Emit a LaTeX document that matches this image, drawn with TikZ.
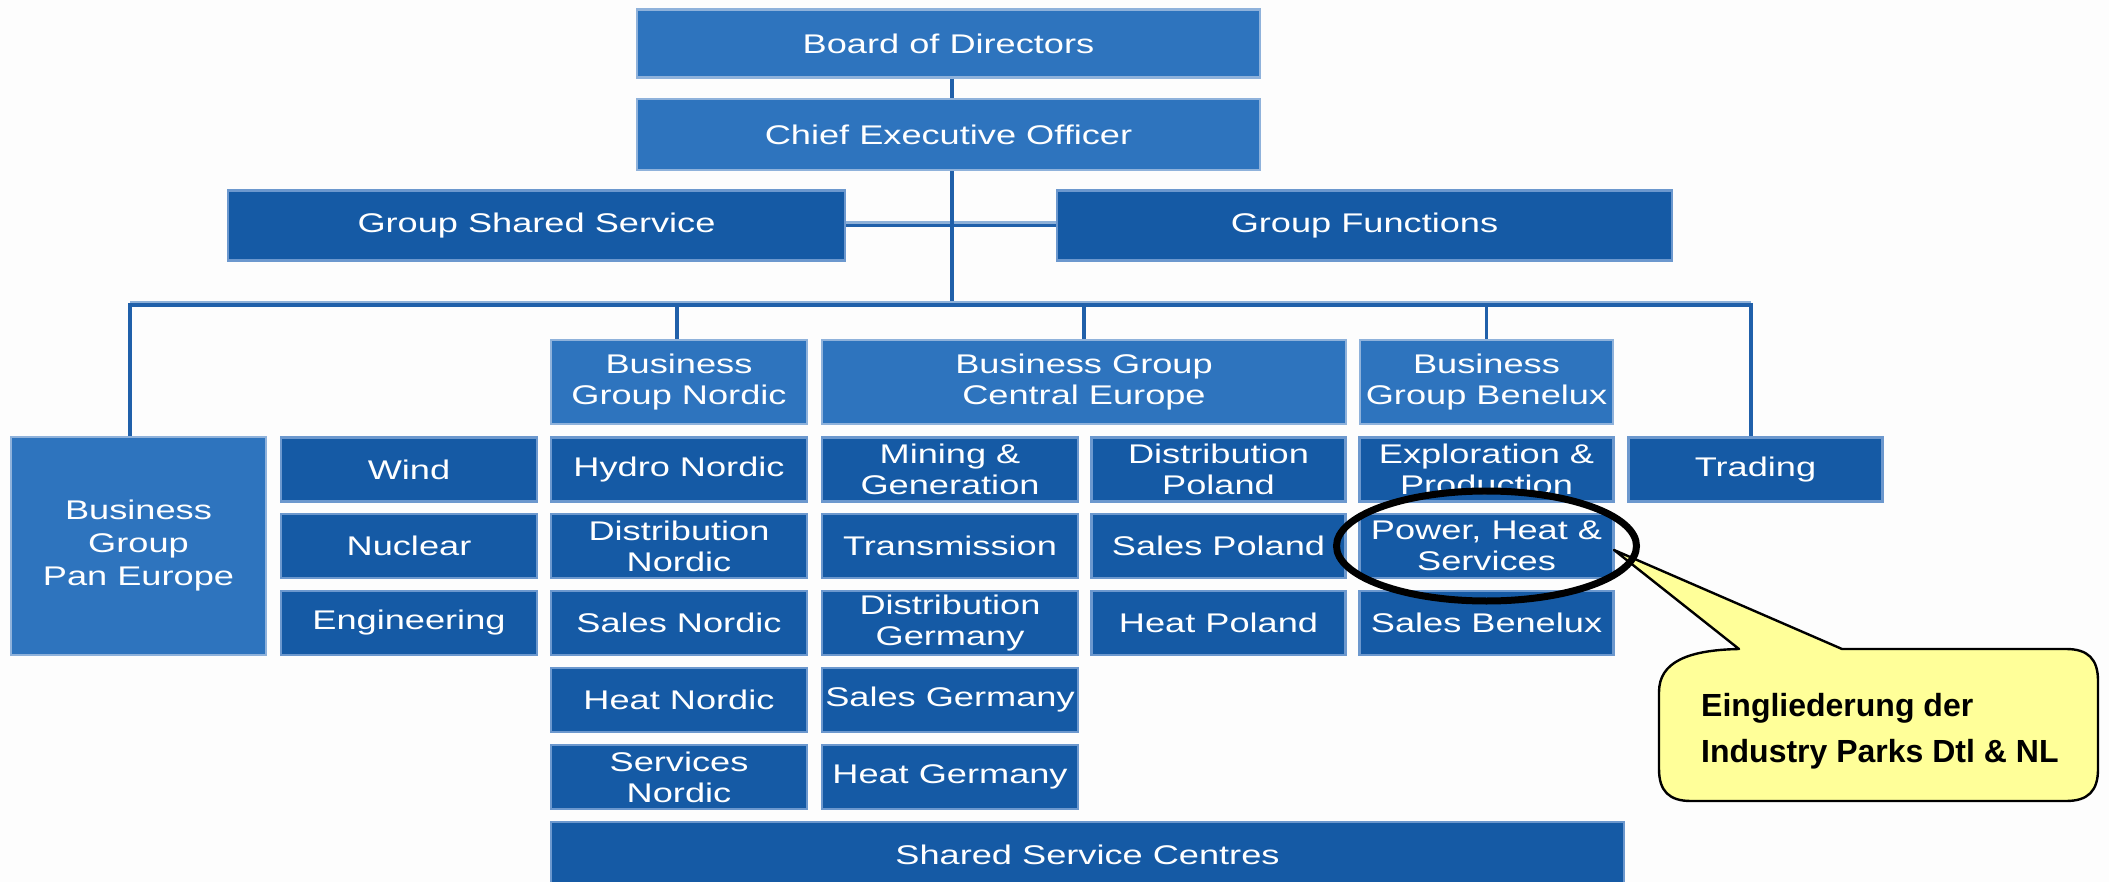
\documentclass[tikz,border=0pt]{standalone}
\usepackage{fontspec}
\setmainfont{Liberation Sans}
\newfontfamily\boxfont[FakeStretch=1.34]{Liberation Sans}
\usetikzlibrary{calc,shapes.geometric}
\definecolor{lightbox}{HTML}{2E74BE}
\definecolor{darkbox}{HTML}{155AA5}
\definecolor{edgelight}{HTML}{8FB2DB}
\definecolor{edgedark}{HTML}{6C98CE}
\definecolor{connblue}{HTML}{2060AA}
\definecolor{busstrip}{HTML}{8EB1D9}
\definecolor{calloutfill}{HTML}{FFFF99}
\definecolor{bgpaper}{HTML}{FDFDFD}
\tikzset{
  orgbox/.style={rectangle, inner sep=0pt, text=white, align=center,
    font=\boxfont\fontsize{27}{31}\selectfont, line width=2.5pt},
  topbox/.style={orgbox, fill=lightbox, draw=edgelight},
  unitbox/.style={orgbox, fill=darkbox, draw=edgedark},
  cellA/.style={minimum width=256pt, minimum height=64pt},
  cellB/.style={minimum width=254pt, minimum height=64pt},
  conn/.style={draw=connblue, line width=3.5pt},
  strip/.style={draw=busstrip, line width=2.5pt},
  callout/.style={draw=black, line width=2.4pt, fill=calloutfill, line join=round},
  calltext/.style={align=left, inner sep=0pt, font=\bfseries\fontsize{32}{46}\selectfont},
  ring/.style={ellipse, draw=black, line width=7pt, inner sep=0pt}
}
\begin{document}
\begin{tikzpicture}[x=1pt,y=-1pt]
\useasboundingbox (0,0) rectangle (2109,882);
\clip (0,0) rectangle (2109,882);
\fill[bgpaper] (0,0) rectangle (2109,882);

% top
\node[topbox, minimum width=623pt, minimum height=68pt] (board) at (948.5,43.5) {Board of Directors};
\node[topbox, minimum width=623pt, minimum height=71pt] (ceo) at (948.5,134.5) {Chief Executive Officer};
\node[unitbox, minimum width=617pt, minimum height=70pt] (gss) at (536.5,225.5) {Group Shared Service};
\node[unitbox, minimum width=615pt, minimum height=70pt] (gf) at (1364.5,225.5) {Group Functions};

% business groups
\node[topbox, minimum width=256pt, minimum height=84pt] (bgn) at (679,382) {Business\\Group Nordic};
\node[topbox, minimum width=524pt, minimum height=84pt] (bgce) at (1084,382) {Business Group\\Central Europe};
\node[topbox, minimum width=253pt, minimum height=84pt] (bgb) at (1486.5,382) {Business\\Group Benelux};
\node[topbox, minimum width=255pt, minimum height=218pt, font=\boxfont\fontsize{27}{33}\selectfont] (pan) at (138.5,546) {Business\\Group\\Pan Europe};

% row 1
\node[unitbox, cellA] (wind) at (409,469.5) {Wind};
\node[unitbox, cellA] (hydro) at (679,469.5) {Hydro Nordic};
\node[unitbox, cellA] (mining) at (950,469.5) {Mining \&\\Generation};
\node[unitbox, cellB] (distpl) at (1218.5,469.5) {Distribution\\Poland};
\node[unitbox, cellB] (explo) at (1486.5,469.5) {Exploration \&\\Production};
\node[unitbox, cellB] (trading) at (1755.5,469.5) {Trading};
% row 2
\node[unitbox, cellA] (nuclear) at (409,546) {Nuclear};
\node[unitbox, cellA] (distno) at (679,546) {Distribution\\Nordic};
\node[unitbox, cellA] (transm) at (950,546) {Transmission};
\node[unitbox, cellB] (salespl) at (1218.5,546) {Sales Poland};
\node[unitbox, cellB] (phs) at (1486.5,546) {Power, Heat \&\\Services};
% row 3
\node[unitbox, cellA] (engin) at (409,623) {Engineering};
\node[unitbox, cellA] (salesno) at (679,623) {Sales Nordic};
\node[unitbox, cellA] (distde) at (950,623) {Distribution\\Germany};
\node[unitbox, cellB] (heatpl) at (1218.5,623) {Heat Poland};
\node[unitbox, cellB] (salesbe) at (1486.5,623) {Sales Benelux};
% row 4
\node[unitbox, cellA] (heatno) at (679,700) {Heat Nordic};
\node[unitbox, cellA] (salesde) at (950,700) {Sales Germany};
% row 5
\node[unitbox, cellA] (servno) at (679,777) {Services\\Nordic};
\node[unitbox, cellA] (heatde) at (950,777) {Heat Germany};
% shared service centres
\node[unitbox, minimum width=1073pt, minimum height=66pt] (ssc) at (1087.5,855) {Shared Service Centres};

% connectors
\coordinate (busL) at (130,305);
\coordinate (busC) at (952,305);
\coordinate (busR) at (1751,305);
\draw[conn] ([xshift=3.5pt]board.south) -- ([xshift=3.5pt]ceo.north);
\draw[strip] ([yshift=3pt]gss.east) -- ([yshift=3pt]gf.west);
\draw[conn] (gss.east) -- (gf.west);
\draw[conn] ([xshift=3.5pt]ceo.south) -- (busC);
\draw[strip] ([yshift=3pt]busL) -- ([yshift=3pt]busR);
\draw[conn] (pan.north -| busL) -- (busL) -- (busR) -- (trading.north -| busR);
\draw[conn] ([xshift=-2pt]bgn.north) -- ([xshift=-2pt]bgn.north |- busC);
\draw[conn] (bgce.north) -- (bgce.north |- busC);
\draw[conn] (bgb.north) -- (bgb.north |- busC);

% callout
\coordinate (tip) at (1614,550);
\draw[callout] (tip) -- (1842,649) -- (2066,649)
  .. controls (2088,649) and (2098,659) .. (2098,681) -- (2098,769)
  .. controls (2098,791) and (2088,801) .. (2066,801) -- (1691,801)
  .. controls (1669,801) and (1659,791) .. (1659,769) -- (1659,692)
  .. controls (1659,662) and (1688,650) .. (1739,649) -- cycle;
\node[calltext, anchor=west] (note) at (1701,731) {Eingliederung der\\Industry Parks Dtl \& NL};

% highlight ring
\node[ring, minimum width=300pt, minimum height=110pt] (hl) at (phs.center) {};
\end{tikzpicture}
\end{document}
